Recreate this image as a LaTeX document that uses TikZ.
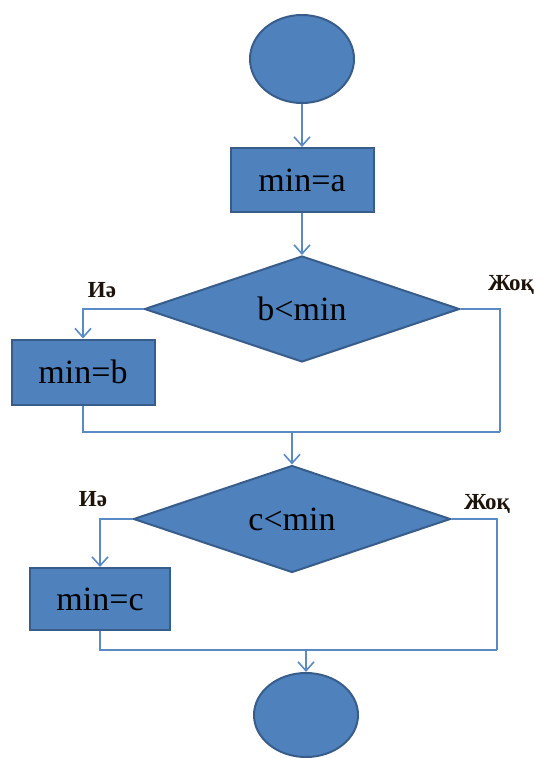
\documentclass[tikz,border=0pt]{standalone}
\usepackage{fontspec}
\setmainfont{Liberation Serif}
\usetikzlibrary{shapes.geometric,arrows.meta}
\definecolor{boxfill}{HTML}{4F81BD}
\definecolor{boxline}{HTML}{385D8A}
\definecolor{conn}{HTML}{5A8AC6}
\tikzset{
  blk/.style={draw=boxline,line width=2pt,fill=boxfill,inner sep=0pt,font=\fontsize{34}{40}\selectfont},
  term/.style={blk,ellipse},
  proc/.style={blk,rectangle},
  cond/.style={blk,diamond,shape aspect=3},
  conn/.style={draw=conn,line width=1.6pt},
  arr/.style={conn,-{Straight Barb[length=9pt,width=16pt,line width=1.6pt]}},
  lbl/.style={font=\fontsize{23}{27}\selectfont\bfseries,text=black!85!brown}
}
\begin{document}
\begin{tikzpicture}[x=1pt,y=-1pt]
\useasboundingbox (0,0) rectangle (543,758);
\node[term,minimum width=104pt,minimum height=88pt] (start) at (302,59) {};
\node[proc,minimum width=143pt,minimum height=64pt] (a) at (302,180) {min=a};
\node[cond,minimum width=315pt,minimum height=106pt] (d1) at (302,309) {b<min};
\node[proc,minimum width=143pt,minimum height=65pt] (b) at (83,372) {min=b};
\node[cond,minimum width=317pt,minimum height=107pt] (d2) at (292,519) {c<min};
\node[proc,minimum width=140pt,minimum height=62pt] (c) at (100,599) {min=c};
\node[term,minimum width=104pt,minimum height=84pt] (stop) at (306,715) {};
\node[lbl] (y1) at (102,290) {Иә};
\node[lbl] (n1) at (511,285) {Жоқ};
\node[lbl] (y2) at (93,499) {Иә};
\node[lbl] (n2) at (487,504) {Жоқ};
\coordinate (r1) at (500,432);
\coordinate (m1) at (292,432);
\coordinate (r2) at (497,650);
\coordinate (m2) at (306,650);
\draw[arr] (start) -- (a);
\draw[arr] (a) -- (d1);
\draw[arr] (d1.west) -| (b.north);
\draw[conn] (d1.east) -| (r1);
\draw[conn] (b.south) |- (r1);
\draw[arr] (m1) -- (d2.north);
\draw[arr] (d2.west) -| (c.north);
\draw[conn] (d2.east) -| (r2);
\draw[conn] (c.south) |- (r2);
\draw[arr] (m2) -- (stop.north);
\end{tikzpicture}
\end{document}
